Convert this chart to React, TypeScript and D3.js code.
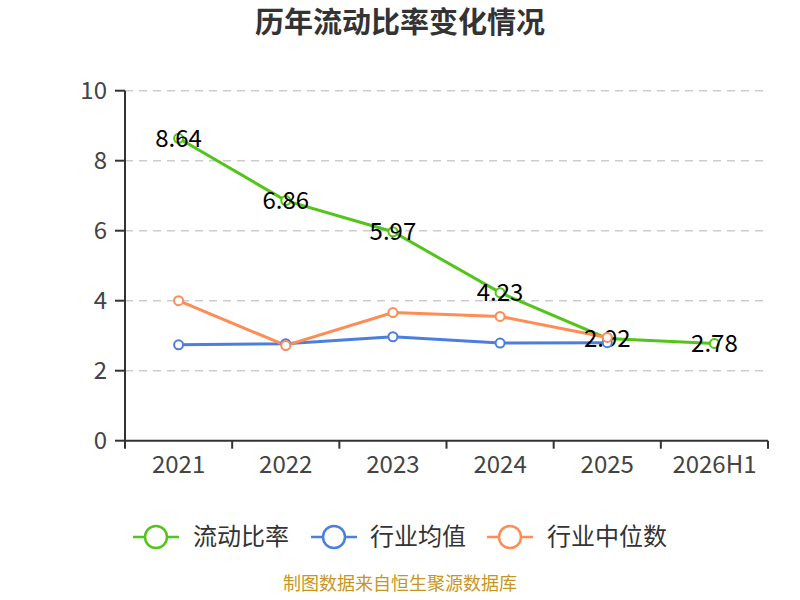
import React from "react";
import * as d3 from "d3";

const categories = ["2021", "2022", "2023", "2024", "2025", "2026H1"];
const currentRatio = [8.64, 6.86, 5.97, 4.23, 2.92, 2.78];
const industryAvg = [2.74, 2.77, 2.97, 2.79, 2.8];
const industryMedian = [4.0, 2.72, 3.66, 3.55, 2.95];
const yTicks = [0, 2, 4, 6, 8, 10];
const seriesNames = ["流动比率", "行业均值", "行业中位数"];
const seriesColors = ["#52c41a", "#4a7fe0", "#ff8c55"];
const title = "历年流动比率变化情况";
const footer = "制图数据来自恒生聚源数据库";

const FONT = "'Noto Sans CJK SC', 'Noto Sans', sans-serif";

export default function App() {
  const W = 800, H = 600;
  const left = 125, right = 768, top = 90.7, bottom = 440.7;
  const x = d3.scaleBand<string>().domain(categories).range([left, right]);
  const y = d3.scaleLinear().domain([0, 10]).range([bottom, top]);
  const cx = (c: string) => (x(c) as number) + x.bandwidth() / 2;
  const line = d3
    .line<[string, number]>()
    .x((d) => cx(d[0]))
    .y((d) => y(d[1]));

  const series = [currentRatio, industryAvg, industryMedian];

  const legendItems = [
    { x: 133, textX: 193 },
    { x: 311, textX: 370 },
    { x: 487, textX: 547 },
  ];

  const markers = (si: number) => (
    <g key={"m" + si}>
      {series[si].map((v, i) => (
        <circle key={i} cx={cx(categories[i])} cy={y(v)} r={4.5} fill="#fff" stroke={seriesColors[si]} strokeWidth={2} />
      ))}
    </g>
  );

  return (
    <svg width={W} height={H} style={{ position: "absolute", left: 0, top: 0, fontFamily: FONT }}>
      <rect width={W} height={H} fill="#fff" />
      <text x={400} y={23} dy="0.36em" textAnchor="middle" fontSize={29} fontWeight="bold" fill="#333">
        {title}
      </text>
      {yTicks.map((t) => (
        <g key={t}>
          {t > 0 && (
            <line x1={left} x2={right} y1={y(t)} y2={y(t)} stroke="#ccc" strokeDasharray="8,6" strokeWidth={1.5} />
          )}
          <line x1={left - 10} x2={left} y1={y(t)} y2={y(t)} stroke="#333" strokeWidth={2} />
          <text x={107} y={y(t)} dy="0.35em" textAnchor="end" fontSize={24} fill="#444">
            {t}
          </text>
        </g>
      ))}
      <line x1={left} x2={left} y1={top} y2={bottom} stroke="#333" strokeWidth={2} />
      <line x1={left} x2={right} y1={bottom} y2={bottom} stroke="#333" strokeWidth={2} />
      {categories.map((c, i) => (
        <g key={c}>
          <line x1={x(c) as number} x2={x(c) as number} y1={bottom} y2={bottom + 8} stroke="#333" strokeWidth={2} />
          {i === categories.length - 1 && (
            <line x1={right} x2={right} y1={bottom} y2={bottom + 8} stroke="#333" strokeWidth={2} />
          )}
          <text x={cx(c)} y={465} dy="0.35em" textAnchor="middle" fontSize={24} fill="#444">
            {c}
          </text>
        </g>
      ))}
      {series.map((vals, si) => {
        const pts = vals.map((v, i) => [categories[i], v] as [string, number]);
        return (
          <g key={si}>
            <path d={line(pts) as string} fill="none" stroke={seriesColors[si]} strokeWidth={3} />
          </g>
        );
      })}
      {markers(0)}
      {currentRatio.map((v, i) => (
        <text key={"l" + i} x={cx(categories[i])} y={y(v)} dy="0.35em" textAnchor="middle" fontSize={24} fill="#000">
          {v.toFixed(2)}
        </text>
      ))}
      {markers(1)}
      {markers(2)}
      {seriesNames.map((n, i) => {
        const it = legendItems[i];
        return (
          <g key={n}>
            <line x1={it.x} x2={it.x + 46} y1={537} y2={537} stroke={seriesColors[i]} strokeWidth={2.5} />
            <circle cx={it.x + 23} cy={537} r={11} fill="#fff" stroke={seriesColors[i]} strokeWidth={2.5} />
            <text x={it.textX} y={537} dy="0.35em" fontSize={24} fill="#333">
              {n}
            </text>
          </g>
        );
      })}
      <text x={400} y={590} textAnchor="middle" fontSize={18} fill="#c8961e">
        {footer}
      </text>
    </svg>
  );
}
